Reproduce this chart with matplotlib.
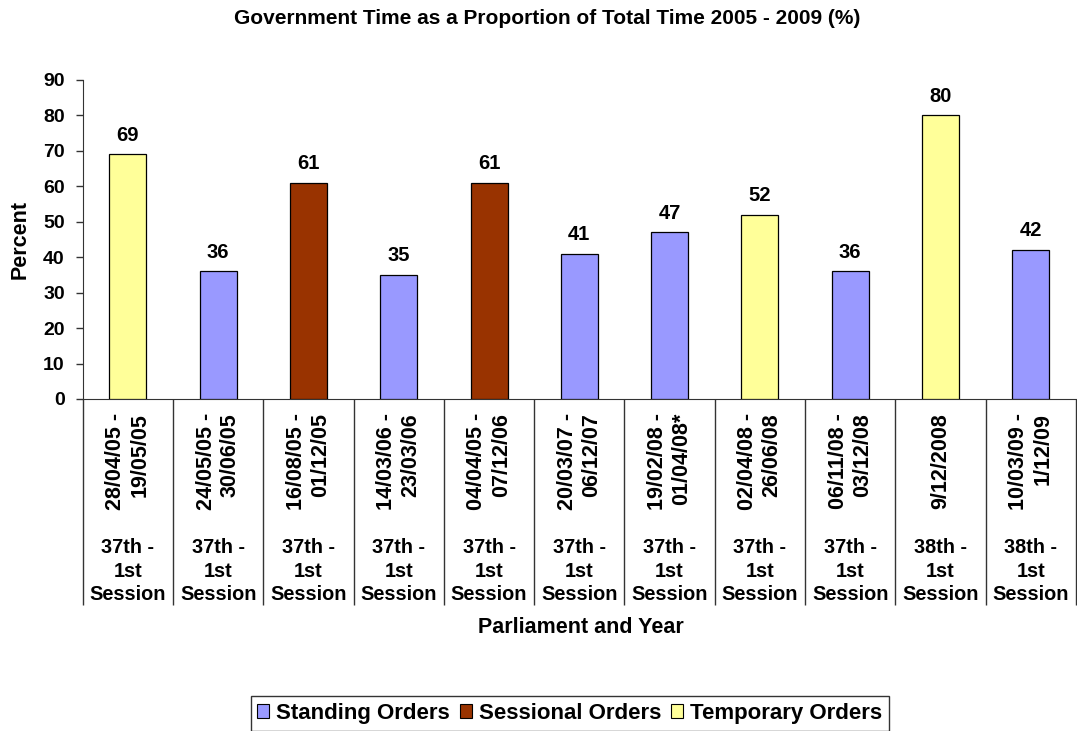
"""Government time as a proportion of total time, 2005-2009."""
import numpy as np
import matplotlib
matplotlib.use("Agg")
import matplotlib.pyplot as plt
from matplotlib.patches import Patch

plt.rcParams["font.family"] = ["Liberation Sans", "DejaVu Sans"]
plt.rcParams["font.weight"] = "bold"

dates = ["28/04/05 -\n19/05/05", "24/05/05 -\n30/06/05", "16/08/05 -\n01/12/05",
         "14/03/06 -\n23/03/06", "04/04/05 -\n07/12/06", "20/03/07 -\n06/12/07",
         "19/02/08 -\n01/04/08*", "02/04/08 -\n26/06/08", "06/11/08 -\n03/12/08",
         "9/12/2008", "10/03/09 -\n1/12/09"]
sessions = ["37th -\n1st\nSession"] * 9 + ["38th -\n1st\nSession"] * 2
values = [69, 36, 61, 35, 61, 41, 47, 52, 36, 80, 42]
kinds = ["Temporary", "Standing", "Sessional", "Standing", "Sessional", "Standing",
         "Standing", "Temporary", "Standing", "Temporary", "Standing"]

COLORS = {"Standing": "#9999ff", "Sessional": "#993300", "Temporary": "#ffff99"}
LEGEND = [("Standing", "Standing Orders"), ("Sessional", "Sessional Orders"),
          ("Temporary", "Temporary Orders")]

fig = plt.figure(figsize=(10.77, 7.31), dpi=100)
ax = fig.add_axes([0.0768, 0.4542, 0.9222, 0.4364])

x = np.arange(len(values))
ax.bar(x, values, width=0.41, color=[COLORS[k] for k in kinds],
       edgecolor="black", linewidth=0.9, zorder=3)
for xi, v in zip(x, values):
    ax.annotate(f"{v}", (xi, v), xytext=(0, 7), textcoords="offset points",
                ha="center", va="bottom", fontsize=14.5, fontweight="bold")

ax.set_xlim(-0.5, len(values) - 0.5)
ax.set_ylim(0, 90)
ax.set_yticks(range(0, 91, 10))
ax.tick_params(axis="y", labelsize=14, length=5, width=1, color="#333333", pad=8)
for lab in ax.get_yticklabels():
    lab.set_fontweight("bold")

# category separators drawn as long minor ticks
ax.set_xticks([])
ax.set_xticks(np.arange(-0.5, len(values), 1.0), minor=True)
ax.tick_params(axis="x", which="minor", length=148, width=1, color="#333333", direction="out")

for sp in ["top", "right"]:
    ax.spines[sp].set_visible(False)
for sp in ["left", "bottom"]:
    ax.spines[sp].set_color("#333333")

trans = ax.get_xaxis_transform()
for xi, d, s in zip(x, dates, sessions):
    ax.text(xi, -0.044, d, transform=trans, rotation=90, ha="center", va="top",
            multialignment="right", fontsize=15.5, fontweight="bold", linespacing=1.2)
    ax.text(xi, -0.436, s, transform=trans, ha="center", va="top",
            fontsize=14.3, fontweight="bold", linespacing=1.3)

ax.set_ylabel("Percent", fontsize=15.5, fontweight="bold", labelpad=9)
fig.text(0.539, 0.141, "Parliament and Year", ha="center", va="center",
         fontsize=15.5, fontweight="bold")
fig.text(0.508, 0.975, "Government Time as a Proportion of Total Time 2005 - 2009 (%)",
         ha="center", va="center", fontsize=15, fontweight="bold")

handles = [Patch(facecolor=COLORS[k], edgecolor="black", linewidth=0.8) for k, _ in LEGEND]
leg = fig.legend(handles, [t for _, t in LEGEND], loc="center", bbox_to_anchor=(0.529, 0.024),
                 ncol=3, frameon=True, fancybox=False, fontsize=16, handlelength=0.55,
                 handleheight=0.55, handletextpad=0.3, columnspacing=0.45, borderpad=0.3,
                 borderaxespad=0)
leg.get_frame().set_edgecolor("black")
leg.get_frame().set_linewidth(1)

fig.savefig("out.png", dpi=100, facecolor="white")
print("saved out.png")
